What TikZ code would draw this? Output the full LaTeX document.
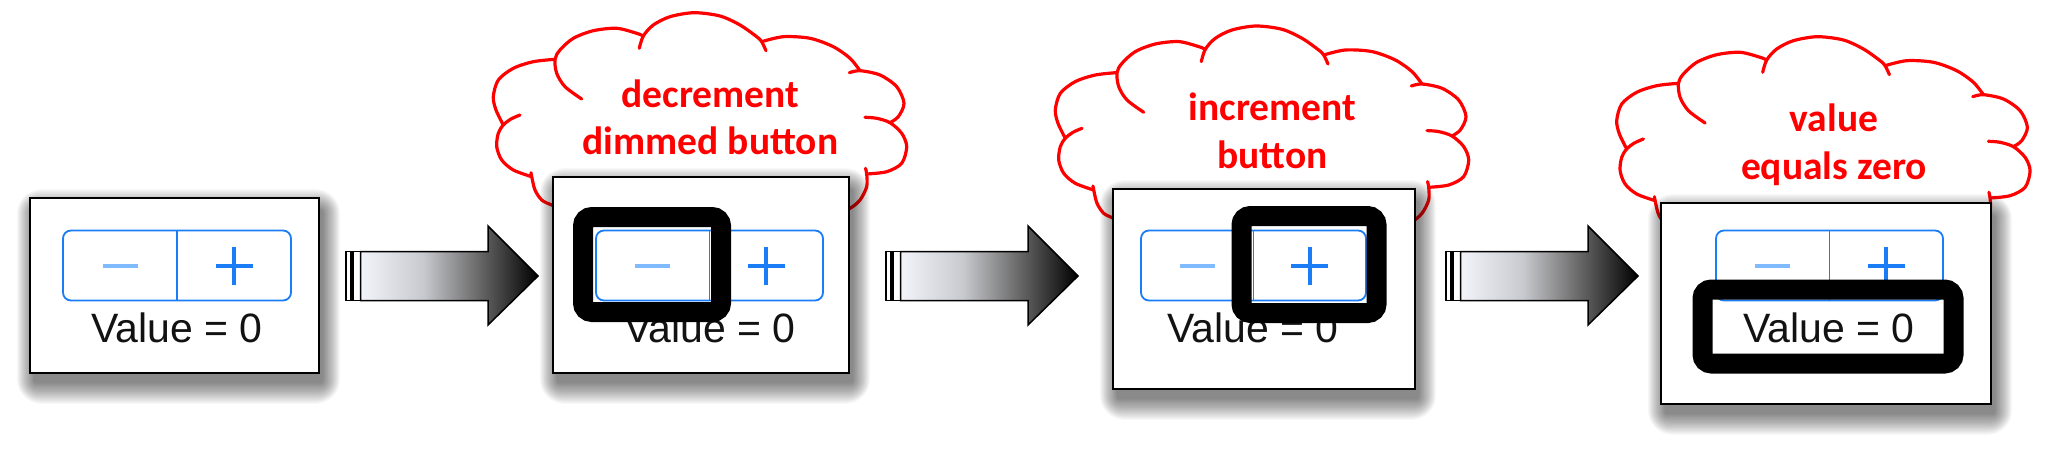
\documentclass[tikz,border=0pt]{standalone}
\usepackage{fontspec}
\setmainfont{Liberation Sans}
\newfontfamily\cloudfont{Carlito}
\newfontfamily\uifont{Liberation Sans}
\definecolor{iosblue}{HTML}{1A7DF6}
\definecolor{iosdim}{HTML}{80BBFF}
\definecolor{cloudred}{HTML}{FF0000}
\definecolor{arrowA}{HTML}{F2F4FA}
\definecolor{arrowB}{HTML}{C9CACF}
\definecolor{arrowC}{HTML}{6A6A6A}
\pgfdeclarehorizontalshading{arrowshade}{100bp}{color(0bp)=(arrowA); color(25bp)=(arrowA); color(42.5bp)=(arrowB); color(58bp)=(arrowC); color(75bp)=(black); color(100bp)=(black)}
\tikzset{
  panel/.style={draw=black, line width=2.4pt, fill=white, inner sep=0pt, rectangle},
  stepline/.style={draw=iosblue, line width=1.8pt, rounded corners=8pt},
  divline/.style={draw=iosblue, line width=1.8pt},
  minusline/.style={draw=iosdim, line width=4pt},
  plusline/.style={draw=iosblue, line width=4pt},
  valtext/.style={anchor=base, inner sep=0pt, font=\uifont\fontsize{41}{41}\selectfont, text=black!93},
  hiframe/.style={draw=black, line width=20pt, rounded corners=9pt},
  cloudline/.style={draw=cloudred, line width=3.2pt, line cap=round},
  cloudtext/.style={anchor=base, align=center, inner sep=0pt, text=cloudred, font=\cloudfont\bfseries\fontsize{39.5}{47.5}\selectfont},
  arrowstripe/.style={draw=black, line width=1.5pt, fill=white},
  arrowbody/.style={draw=black, line width=1.5pt, shade, shading=arrowshade, line join=miter},
}
\newcommand\myshadow[4]{%
  \foreach \i in {0,...,19}{%
    \pgfmathsetmacro\rr{2+1.2*\i}%
    \fill[black, fill opacity=0.028, rounded corners=\rr pt]
      ({#1+4-0.9*\i},{#2+12-1.1*\i}) rectangle ({#3+4+0.9*\i},{#4+10+1.1*\i});
  }}
\newcommand\mystepper[2]{%
  \pgfmathsetmacro\sm{(#1+#2)/2}%
  \pgfmathsetmacro\sa{#1+(#2-#1)/4}%
  \pgfmathsetmacro\sb{#1+3*(#2-#1)/4}%
  \draw[stepline] (#1,230.5) rectangle (#2,300.5);
  \draw[divline] (\sm,230.5) -- (\sm,300.5);
  \draw[minusline] ({\sa-17.5},265.5) -- ({\sa+17.5},265.5);
  \draw[plusline] ({\sb-18.5},265.5) -- ({\sb+18.5},265.5) (\sb,246.5) -- (\sb,284.5);
}
\newcommand\myarrow[1]{%
  \draw[arrowstripe] (#1,251.5) rectangle ({#1+5},300.5);
  \draw[arrowstripe] ({#1+7},251.5) rectangle ({#1+14.5},300.5);
  \draw[arrowbody] ({#1+14.5},251.5) -- ({#1+142},251.5) -- ({#1+142},226) -- ({#1+192},276)
     -- ({#1+142},325) -- ({#1+142},300.5) -- ({#1+14.5},300.5) -- cycle;
}
\newcommand\mycloud{%
  \fill[white] plot[smooth] coordinates {(503.3,125) (496,110) (493.3,96.7) (498.3,80) (513.3,68.3) (533.3,61.7) (555,59.3)}
   -- plot[smooth] coordinates {(555,59.3) (560,50) (573.3,38.3) (593.3,30.7) (616.7,28.3) (636.7,33.3) (643.3,36)}
   -- plot[smooth] coordinates {(643.3,36) (653.3,25) (670,16.7) (694,12.7) (720,16) (740,25) (756.7,36.7) (761.7,41.7)}
   -- plot[smooth] coordinates {(761.7,41.7) (783.3,36.7) (810,38.3) (833.3,46.7) (850,58.3) (860,70.7)}
   -- plot[smooth] coordinates {(860,70.7) (880,75) (896.7,86.7) (904,103.3) (898.3,116.7) (890,122.7)}
   -- plot[smooth] coordinates {(890,122.7) (901.7,133.3) (906.7,146.7) (901.7,163.3) (886.7,171.7) (866.7,174)}
   -- plot[smooth] coordinates {(866.7,174) (866.7,186.7) (860,200) (850,208.3)}
   -- (845,240) -- (560,240) -- (551.7,205)
   -- plot[smooth] coordinates {(551.7,205) (541.7,200) (535,190) (531.7,176.7)}
   -- plot[smooth] coordinates {(531.7,176.7) (513.3,170) (501.7,160) (496.7,146.7) (498.3,133.3) (503.3,125)}
   -- cycle;
  \draw[cloudline] plot[smooth] coordinates {(503.3,125) (496,110) (493.3,96.7) (498.3,80) (513.3,68.3) (533.3,61.7) (555,59.3)};
  \draw[cloudline] plot[smooth] coordinates {(581.7,99) (565,86.7) (556.7,73.3) (555,59.3) (560,50) (573.3,38.3) (593.3,30.7) (616.7,28.3) (636.7,33.3) (643.3,36)};
  \draw[cloudline] plot[smooth] coordinates {(639.3,48.3) (643.3,36) (653.3,25) (670,16.7) (694,12.7) (720,16) (740,25) (756.7,36.7) (761.7,41.7) (766,50.7)};
  \draw[cloudline] plot[smooth] coordinates {(761.7,41.7) (783.3,36.7) (810,38.3) (833.3,46.7) (850,58.3) (860,70.7)};
  \draw[cloudline] plot[smooth] coordinates {(849.3,72.7) (860,70.7) (880,75) (896.7,86.7) (904,103.3) (898.3,116.7) (890,122.7)};
  \draw[cloudline] plot[smooth] coordinates {(865,117.3) (876.7,118.3) (890,122.7) (901.7,133.3) (906.7,146.7) (901.7,163.3) (886.7,171.7) (866.7,174)};
  \draw[cloudline] plot[smooth] coordinates {(865.5,168.3) (866.7,174) (866.7,186.7) (860,200) (850,208.3) (835,214)};
  \draw[cloudline] plot[smooth] coordinates {(531,172.7) (531.7,176.7) (535,190) (541.7,200) (551.7,205) (565,210)};
  \draw[cloudline] plot[smooth] coordinates {(520,115) (511,119) (503.3,125) (498.3,133.3) (496.7,146.7) (501.7,160) (513.3,170) (531.7,176.7)};
}
\begin{document}
\begin{tikzpicture}[x=1pt, y=-1pt]
\useasboundingbox (0,0) rectangle (2062,468);
\fill[white] (0,0) rectangle (2062,468);

% clouds
\begin{scope}
  \mycloud
  \node[cloudtext] (c2) at (710.5,155) {decrement\\dimmed button};
\end{scope}
\begin{scope}[shift={(562,13.3)}]
  \mycloud
  \node[cloudtext] (c3) at (710.5,155) {increment\\button};
\end{scope}
\begin{scope}[shift={(1123.4,24)}]
  \mycloud
  \node[cloudtext] (c4) at (710.5,155) {value\\equals zero};
\end{scope}

% shadows
\myshadow{30}{198}{319}{373}
\myshadow{553}{177}{849}{373}
\myshadow{1113}{189}{1415}{389}
\myshadow{1661}{203}{1991}{404}

% panels
\node[panel, minimum width=289pt, minimum height=175pt] (p1) at (174.5,285.5) {};
\node[panel, minimum width=296pt, minimum height=196pt] (p2) at (701,275) {};
\node[panel, minimum width=302pt, minimum height=200pt] (p3) at (1264,289) {};
\node[panel, minimum width=330pt, minimum height=201pt] (p4) at (1826,303.5) {};

% steppers
\mystepper{63}{291}
\mystepper{596}{823}
\mystepper{1141}{1366}
\mystepper{1716}{1943}

% value labels
\node[valtext] (v1) at (177,342) {Value = 0};
\node[valtext] (v2) at (710,342) {Value = 0};
\node[valtext] (v3) at (1253,342) {Value = 0};
\node[valtext] (v4) at (1829,342) {Value = 0};

% highlight frames
\draw[hiframe] (583,217) rectangle (721,312);
\draw[hiframe] (1241.5,216) rectangle (1376.5,313);
\draw[hiframe] (1702.5,289.5) rectangle (1953.5,363.5);

% arrows
\myarrow{346}
\myarrow{886}
\myarrow{1446}
\end{tikzpicture}
\end{document}
